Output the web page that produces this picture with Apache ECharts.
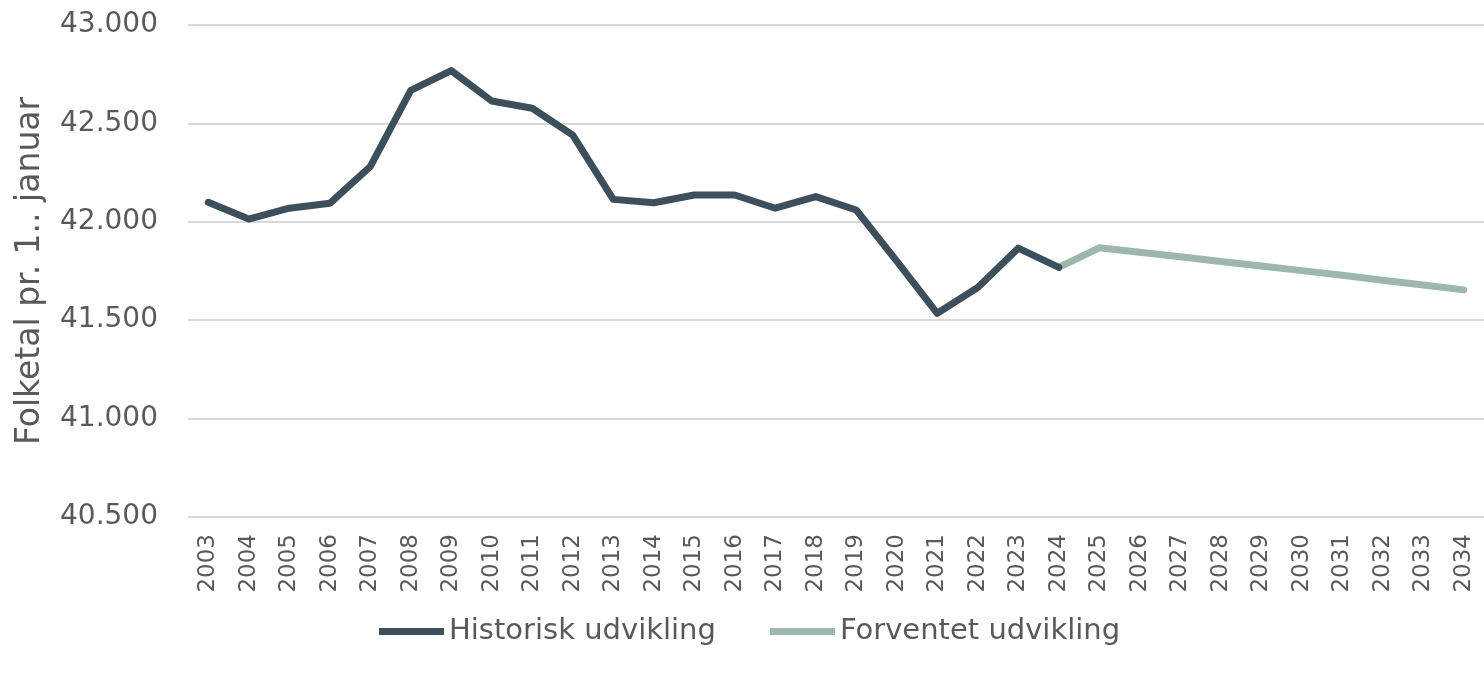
<!DOCTYPE html>
<html>
<head>
<meta charset="utf-8">
<script src="https://cdn.jsdelivr.net/npm/echarts@6/dist/echarts.min.js"></script>
<style>
html,body{margin:0;padding:0;background:#fff;}
#chart{width:1484px;height:673px;}
</style>
</head>
<body>
<div id="chart"></div>
<script>
const years = ['2003','2004','2005','2006','2007','2008','2009','2010','2011','2012','2013','2014','2015','2016','2017','2018','2019','2020','2021','2022','2023','2024','2025','2026','2027','2028','2029','2030','2031','2032','2033','2034'];
const historisk = [42099,42014,42069,42094,42280,42668,42768,42614,42577,42440,42114,42097,42136,42136,42069,42128,42060,41800,41535,41666,41866,41768];
const forventet = [41768,41868,41845,41822,41798,41775,41752,41728,41703,41679,41654];
const seriesNames = ['Historisk udvikling','Forventet udvikling'];
const yTitle = 'Folketal pr. 1.. januar';

const histData = years.map((y,i)=> i < historisk.length ? historisk[i] : '-');
const fcStart = historisk.length - 1;
const fcData = years.map((y,i)=> (i >= fcStart && i - fcStart < forventet.length) ? forventet[i - fcStart] : '-');

const fmt = v => String(v).replace(/\B(?=(\d{3})+(?!\d))/g, '.');
const textColor = '#595959';
const font = 'DejaVu Sans';

const chart = echarts.init(document.getElementById('chart'), null, {renderer:'canvas'});
chart.setOption({
  animation:false,
  backgroundColor:'#ffffff',
  grid:{left:188, right:0, top:25, bottom:156, containLabel:false},
  legend:{
    bottom:22,
    left:374,
    itemWidth:65,
    itemHeight:7,
    itemGap:54,
    textStyle:{fontFamily:font, fontSize:29, color:textColor, padding:[0,0,0,0]},
    data:[{name:seriesNames[0], icon:'rect'},{name:seriesNames[1], icon:'rect'}]
  },
  xAxis:{
    type:'category',
    data:years,
    boundaryGap:true,
    axisLine:{show:false},
    axisTick:{show:false},
    axisLabel:{rotate:90, interval:0, margin:17, fontFamily:font, fontSize:23, color:textColor}
  },
  yAxis:{
    type:'value',
    min:40500, max:43000, interval:500,
    name:yTitle,
    nameLocation:'middle',
    nameRotate:90,
    nameGap:141,
    nameTextStyle:{fontFamily:font, fontSize:33, color:textColor},
    axisLine:{show:false},
    axisTick:{show:false},
    axisLabel:{margin:30, fontFamily:font, fontSize:28, color:textColor, formatter:fmt},
    splitLine:{show:true, lineStyle:{color:'#d9d9d9', width:2}}
  },
  series:[
    {name:seriesNames[0], type:'line', data:histData, showSymbol:false, symbol:'none',
     lineStyle:{color:'#3c4f5b', width:7, join:'round', cap:'round'}, itemStyle:{color:'#3c4f5b'}, z:3},
    {name:seriesNames[1], type:'line', data:fcData, showSymbol:false, symbol:'none',
     lineStyle:{color:'#9db7ad', width:7, join:'round', cap:'round'}, itemStyle:{color:'#9db7ad'}, z:2}
  ]
});
</script>
</body>
</html>
